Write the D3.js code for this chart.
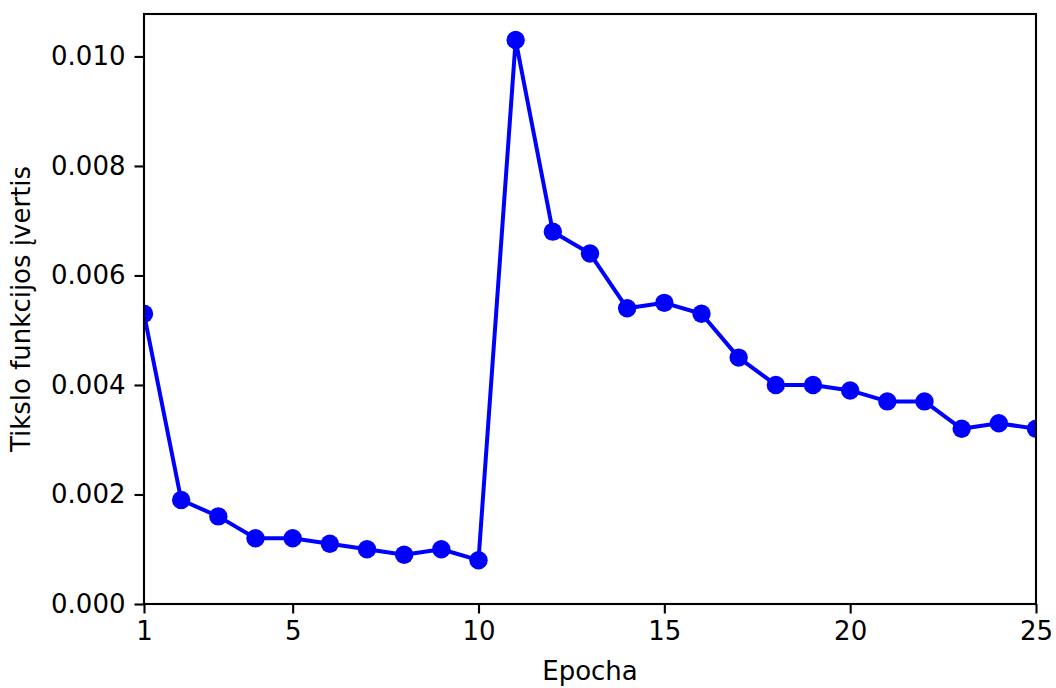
<!DOCTYPE html>
<html>
<head>
<meta charset="utf-8">
<script src="https://cdn.jsdelivr.net/npm/d3@7"></script>
<style>
  html, body { margin: 0; padding: 0; background: #fff; }
  svg { display: block; }
  text { font-family: "DejaVu Sans", sans-serif; fill: #000; }
</style>
</head>
<body>
<svg id="chart" width="1056" height="688"></svg>
<script>
// Loss per training epoch
const epochs = [1, 2, 3, 4, 5, 6, 7, 8, 9, 10, 11, 12, 13, 14, 15, 16, 17, 18, 19, 20, 21, 22, 23, 24, 25];
const lossValues = [0.0053, 0.0019, 0.0016, 0.0012, 0.0012, 0.0011, 0.0010, 0.0009, 0.0010, 0.0008,
                    0.0103, 0.0068, 0.0064, 0.0054, 0.0055, 0.0053, 0.0045, 0.0040, 0.0040, 0.0039,
                    0.0037, 0.0037, 0.0032, 0.0033, 0.0032];
const xTicks = [1, 5, 10, 15, 20, 25];
const yTicks = [0, 0.002, 0.004, 0.006, 0.008, 0.010];
const xLabel = "Epocha";
const yLabel = "Tikslo funkcijos įvertis";

const FONT = 26;
const svg = d3.select("#chart");
const margin = { left: 144, right: 1056 - 1036, top: 14, bottom: 688 - 604 };
const W = 1056 - margin.left - margin.right;
const H = 688 - margin.top - margin.bottom;

const yMax = 0.010775;
const x = d3.scaleLinear().domain([1, 25]).range([0, W]);
const y = d3.scaleLinear().domain([0, yMax]).range([H, 0]);

const g = svg.append("g").attr("transform", `translate(${margin.left},${margin.top})`);

g.append("clipPath").attr("id", "plotClip")
  .append("rect").attr("x", 0).attr("y", 0).attr("width", W).attr("height", H);

const plot = g.append("g").attr("clip-path", "url(#plotClip)");
const pts = epochs.map((e, i) => [e, lossValues[i]]);

plot.append("path")
  .datum(pts)
  .attr("fill", "none")
  .attr("stroke", "#0000ff")
  .attr("stroke-width", 4)
  .attr("stroke-linejoin", "round")
  .attr("d", d3.line().x(d => x(d[0])).y(d => y(d[1])));

plot.selectAll("circle")
  .data(pts)
  .join("circle")
  .attr("cx", d => x(d[0]))
  .attr("cy", d => y(d[1]))
  .attr("r", 9.2)
  .attr("fill", "#0000ff");

// Axes
const xAxis = g.append("g")
  .attr("transform", `translate(0,${H})`)
  .call(d3.axisBottom(x).tickValues(xTicks).tickFormat(d3.format("d")).tickSize(9.5).tickPadding(8));
const yAxis = g.append("g")
  .call(d3.axisLeft(y).tickValues(yTicks).tickFormat(d3.format(".3f")).tickSize(9.5).tickPadding(9));

[xAxis, yAxis].forEach(a => {
  a.attr("font-size", null).attr("font-family", null);
  a.select(".domain").remove();
  a.selectAll(".tick line").attr("stroke", "#000").attr("stroke-width", 2.1);
  a.selectAll(".tick text").style("font-size", FONT + "px").style("font-family", "'DejaVu Sans', sans-serif");
});

// Frame
g.append("rect")
  .attr("x", 0).attr("y", 0).attr("width", W).attr("height", H)
  .attr("fill", "none").attr("stroke", "#000").attr("stroke-width", 2.1);

svg.append("text")
  .attr("x", margin.left + W / 2)
  .attr("y", 680)
  .attr("text-anchor", "middle")
  .style("font-size", FONT + "px")
  .text(xLabel);

svg.append("text")
  .attr("transform", `translate(30,${margin.top + H / 2}) rotate(-90)`)
  .attr("text-anchor", "middle")
  .style("font-size", FONT + "px")
  .text(yLabel);
</script>
</body>
</html>
